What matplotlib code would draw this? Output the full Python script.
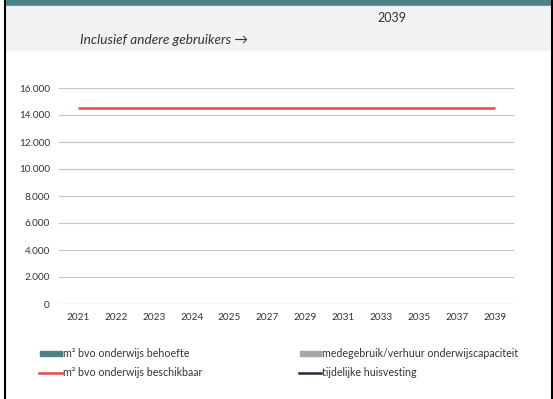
import matplotlib
matplotlib.use("Agg")
import matplotlib.pyplot as plt
from matplotlib.patches import Rectangle
from matplotlib.lines import Line2D
import numpy as np

years = ["2021", "2022", "2023", "2024", "2025", "2027", "2029", "2031", "2033", "2035", "2037", "2039"]
behoefte = [0, 0, 0, 0, 0, 0, 0, 0, 0, 0, 0, 0]
medegebruik = [0, 0, 0, 0, 0, 0, 0, 0, 0, 0, 0, 0]
beschikbaar = [14540, 14540, 14540, 14540, 14540, 14540, 14540, 14540, 14540, 14540, 14540, 14540]
tijdelijk = [np.nan] * 12
yticks = [0, 2000, 4000, 6000, 8000, 10000, 12000, 14000, 16000]
ytick_labels = ["0", "2.000", "4.000", "6.000", "8.000", "10.000", "12.000", "14.000", "16.000"]

FONT = ["Lato", "DejaVu Sans"]
plt.rcParams['font.family'] = FONT

W, H = 553, 399
fig = plt.figure(figsize=(W / 100, H / 100), dpi=100)
fig.patch.set_facecolor("white")

def px(x, y):
    return x / W, 1 - y / H

TEAL = "#4d8385"
TXT = "#333333"
# header bands
fig.patches.append(Rectangle(px(5, 6), 546 / W, 6 / H, transform=fig.transFigure, color=TEAL, zorder=0))
fig.patches.append(Rectangle(px(5, 49.5), 546 / W, 43.5 / H, transform=fig.transFigure, color="#f2f2f2", zorder=0))
# borders
fig.lines.append(Line2D([4.5 / W, 4.5 / W], [0, 1], transform=fig.transFigure, color="black", lw=1.5))
fig.lines.append(Line2D([551.5 / W, 551.5 / W], [0, 1], transform=fig.transFigure, color="black", lw=1.5))

fig.text(*px(392, 18), "2039", ha="center", va="center", fontsize=9, color=TXT)
fig.text(*px(80.5, 40.5), "Inclusief andere gebruikers →", ha="left", va="center", fontsize=9.8,
         style="italic", color=TXT)

ax = fig.add_axes([59 / W, 1 - 304 / H, (514 - 59) / W, (304 - 88) / H])
x = np.arange(len(years))
ax.bar(x, behoefte, color=TEAL, width=0.6)
ax.bar(x, medegebruik, bottom=behoefte, color="#a6a6a6", width=0.6)
ax.plot(x, beschikbaar, color="#e8474c", lw=1.8, solid_capstyle="butt")
ax.plot(x, tijdelijk, color="#262640", lw=1.8)
ax.set_xlim(-0.5, len(years) - 0.5)
ax.set_ylim(0, 16000)
ax.set_yticks(yticks)
ax.set_yticklabels(ytick_labels)
ax.set_xticks(x)
ax.set_xticklabels(years)
ax.tick_params(axis="both", length=0, labelsize=7.2, colors=TXT)
ax.tick_params(axis="y", pad=6.5)
ax.tick_params(axis="x", pad=6.5)
for s in ax.spines.values():
    s.set_visible(False)
ax.grid(axis="y", color="#c4c4c4", lw=0.8)
ax.set_axisbelow(True)
ax.axhline(0, color="#ddd8ea", lw=1.0)

# legend
LFS = 7.7
fig.patches.append(Rectangle(px(40, 356), 22 / W, 5.5 / H, transform=fig.transFigure, color=TEAL))
fig.text(*px(63, 353.5), "m² bvo onderwijs behoefte", ha="left", va="center", fontsize=LFS, color=TXT)
fig.patches.append(Rectangle(px(300, 356), 21 / W, 5.5 / H, transform=fig.transFigure, color="#a6a6a6"))
fig.text(*px(322, 353.5), "medegebruik/verhuur onderwijscapaciteit", ha="left", va="center", fontsize=LFS, color=TXT)
fig.lines.append(Line2D([39 / W, 62 / W], [1 - 373 / H] * 2, transform=fig.transFigure, color="#e8474c", lw=1.8))
fig.text(*px(63, 373), "m² bvo onderwijs beschikbaar", ha="left", va="center", fontsize=LFS, color=TXT)
fig.lines.append(Line2D([299 / W, 321 / W], [1 - 373 / H] * 2, transform=fig.transFigure, color="#262640", lw=1.8))
fig.text(*px(322, 373), "tijdelijke huisvesting", ha="left", va="center", fontsize=LFS, color=TXT)

fig.savefig("out.png", dpi=100)
